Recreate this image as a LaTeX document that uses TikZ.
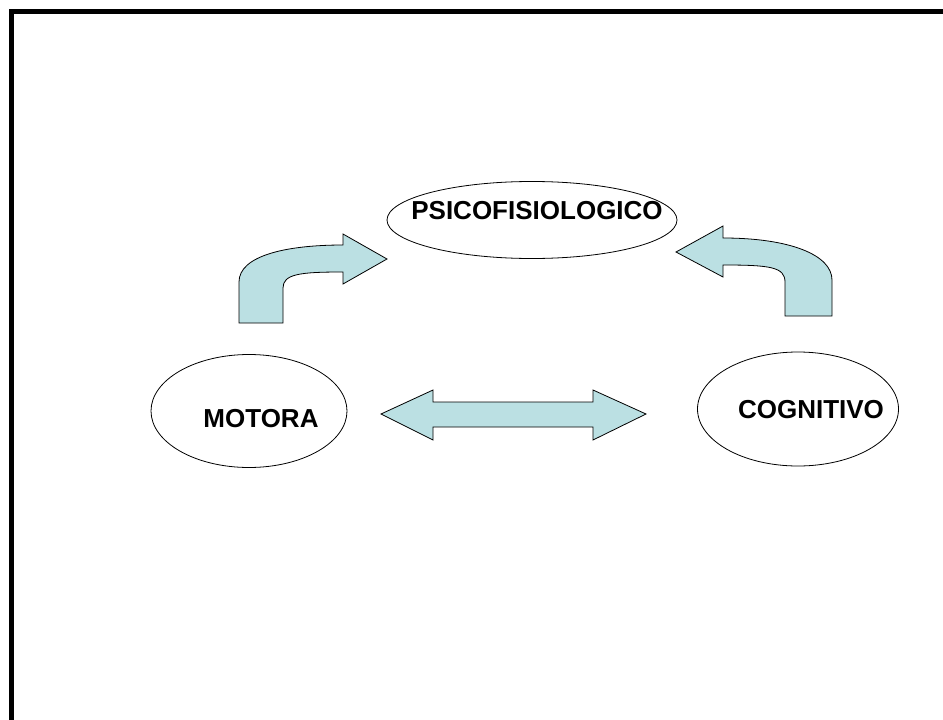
\documentclass[tikz,border=0pt]{standalone}
\usepackage{fontspec}
\setmainfont{Liberation Sans}
\usetikzlibrary{shapes,positioning}
\definecolor{arrowfill}{HTML}{BBE0E3}
\tikzset{x=1pt, y=-1pt, % one unit is one pixel of the page
area/.style={draw, ellipse, line width=0.8pt, inner sep=0pt}, % the three ellipses
label/.style={font=\fontsize{26}{31}\selectfont\bfseries}, % the bold captions
blockarrow/.style={draw, line width=0.8pt, fill=arrowfill, line join=miter}, % the fat arrows
frame/.style={fill=black}, % the border on top and left
}

\begin{document}
\begin{tikzpicture}
\useasboundingbox (0,0) rectangle (943,720);
\fill[white] (0,0) rectangle (943,720);
\fill[frame] (9,9) rectangle (943,14);
\fill[frame] (9,9) rectangle (14,720);

\node[area, minimum width=290pt, minimum height=77pt] (psico) at (532,220) {};
\node[area, minimum width=196pt, minimum height=113pt] (motora) at (249,411) {};
\node[area, minimum width=201pt, minimum height=114pt] (cogni) at (798,409) {};
\node[label] at (537,211) {PSICOFISIOLOGICO};
\node[label] at (261,419) {MOTORA};
\node[label] at (811,410) {COGNITIVO};

% motora up to psicofisiologico
\draw[blockarrow] (239,323) -- (239,282) .. controls (239,256) and (285,245) .. (343,245)
  -- (343,234) -- (387,259) -- (343,284) -- (343,272)
  .. controls (300,272) and (283,274) .. (283,288) -- (283,323) -- cycle;
% cognitivo up to psicofisiologico
\draw[blockarrow] (832,316) -- (832,280) .. controls (832,255) and (790,238) .. (723,238)
  -- (723,226) -- (676,252) -- (723,277) -- (723,265)
  .. controls (770,265) and (785,267) .. (785,282) -- (785,316) -- cycle;
% motora and cognitivo
\draw[blockarrow] (381,414) -- (433,390) -- (433,402) -- (593,402) -- (593,390) -- (646,414)
  -- (593,440) -- (593,427) -- (433,427) -- (433,440) -- cycle;
\end{tikzpicture}
\end{document}
